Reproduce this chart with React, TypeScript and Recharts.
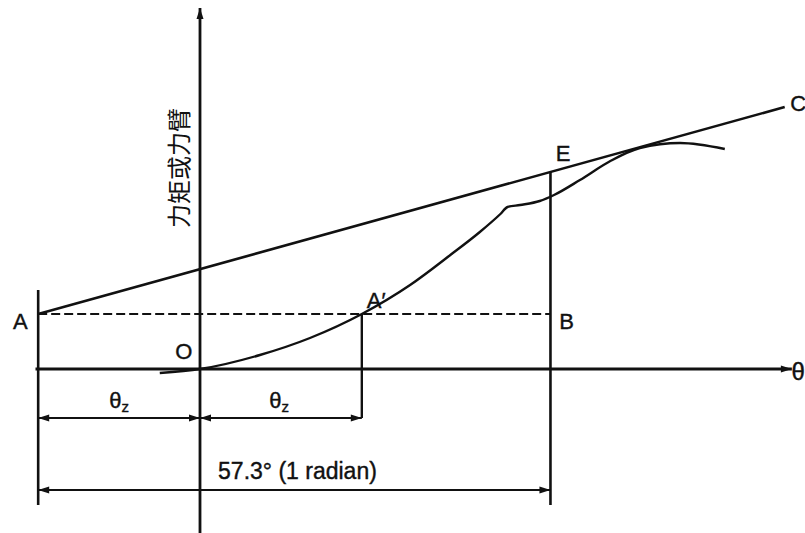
import { ComposedChart, Line, ReferenceDot, ReferenceLine, XAxis, YAxis } from "recharts";

// θ in degrees, moment arm in arbitrary units
const thetaZ = 18.1;
const radianDeg = 57.3;
const armA = 5.5;
const thetaC = 65.4;
const armC = 26.2;

const curveTheta = [-4.5, 0, 6.7, 12.3, 18.1, 23.5, 28.0, 31.3, 33.6, 34.4, 35.8, 38.0, 39.6, 42.5, 45.9, 49.2, 53.7, 58.7];
const curveArm = [-0.4, 0, 1.4, 3.1, 5.5, 8.4, 11.4, 13.7, 15.5, 16.2, 16.4, 16.8, 17.4, 18.9, 20.8, 22.1, 22.6, 22.0];

const xDomain: [number, number] = [-22.37, 67.67];
const yDomain: [number, number] = [-16.4, 36.9];

const dimLevel1 = -4.9;
const dimLevel2 = -12.1;
const dimBottom = -13.6;
const topA = 7.9;

const pointLabels = ["A", "A\u2032", "B", "O", "E", "C", "\u03b8"];
const pointLabelX = [-20.1, 19.7, 41.0, -1.8, 40.6, 66.9, 66.9];
const pointLabelY = [4.8, 6.9, 4.8, 1.8, 21.6, 26.6, -0.2];

const rowData = curveTheta.map((t, i) => ({ t, arm: curveArm[i] }));

// slope of the line A–C, used to place E on it
const slopeAC = (armC - armA) / (thetaC + thetaZ);
const thetaB = radianDeg - thetaZ;
const armE = armA + slopeAC * (thetaB + thetaZ);

const FONT = "'Liberation Sans', Arial, sans-serif";

type SegProps = { x1?: number; y1?: number; x2?: number; y2?: number };

const head = (x: number, y: number, dx: number, dy: number, key: string) => {
  const len = Math.hypot(dx, dy) || 1;
  const ux = dx / len;
  const uy = dy / len;
  const L = 11;
  const W = 3.5;
  const bx = x - ux * L;
  const by = y - uy * L;
  return (
    <polygon
      key={key}
      points={`${x},${y} ${bx - uy * W},${by + ux * W} ${bx + uy * W},${by - ux * W}`}
      fill="#111"
    />
  );
};

const arrowShape =
  (start: boolean, end: boolean, width = 2.4) =>
  (p: SegProps) => {
    const { x1 = 0, y1 = 0, x2 = 0, y2 = 0 } = p;
    return (
      <g>
        <line x1={x1} y1={y1} x2={x2} y2={y2} stroke="#111" strokeWidth={width} />
        {start && head(x1, y1, x1 - x2, y1 - y2, "s")}
        {end && head(x2, y2, x2 - x1, y2 - y1, "e")}
      </g>
    );
  };

const textShape =
  (text: string, size = 22) =>
  (p: { cx?: number; cy?: number }) => (
    <text
      x={p.cx}
      y={p.cy}
      textAnchor="middle"
      dominantBaseline="central"
      fontFamily={FONT}
      fontSize={size}
      fill="#111"
      stroke="#111"
      strokeWidth={0.4}
    >
      {text}
    </text>
  );

const ThetaZ = (p: { cx?: number; cy?: number }) => (
  <text
    x={p.cx}
    y={p.cy}
    textAnchor="middle"
    dominantBaseline="central"
    fontFamily={FONT}
    fill="#111"
    stroke="#111"
    strokeWidth={0.4}
  >
    <tspan fontSize={22}>θ</tspan>
    <tspan fontSize={15} dy={6}>z</tspan>
  </text>
);

const AxisTitle = (p: { cx?: number; cy?: number }) => (
  <text
    x={p.cx}
    y={p.cy}
    textAnchor="middle"
    dominantBaseline="central"
    fontFamily="'Noto Sans CJK SC', sans-serif"
    fontSize={24}
    fill="#111"
    transform={`rotate(-90 ${p.cx} ${p.cy})`}
  >
    力矩或力臂
  </text>
);

export default function App() {
  return (
    <div style={{ position: "absolute", left: 0, top: 0, background: "#fff" }}>
      <ComposedChart width={805} height={533} data={rowData} margin={{ top: 0, right: 0, bottom: 0, left: 0 }}>
        <XAxis type="number" dataKey="t" domain={xDomain} allowDataOverflow hide />
        <YAxis type="number" domain={yDomain} allowDataOverflow hide />

        {/* axes */}
        <ReferenceLine segment={[{ x: 0, y: yDomain[0] }, { x: 0, y: 36.1 }]} shape={arrowShape(false, true, 2.8)} />
        <ReferenceLine segment={[{ x: -18.4, y: 0 }, { x: 66.2, y: 0 }]} shape={arrowShape(false, true, 2.8)} />

        {/* line A–C and dashed A–B */}
        <ReferenceLine segment={[{ x: -thetaZ, y: armA }, { x: thetaC, y: armC }]} stroke="#111" strokeWidth={2.6} />
        <ReferenceLine
          segment={[{ x: -thetaZ, y: armA }, { x: thetaB, y: armA }]}
          stroke="#111"
          strokeWidth={2.2}
          strokeDasharray="9 4"
        />

        {/* verticals at A, A′ and B */}
        <ReferenceLine segment={[{ x: -thetaZ, y: topA }, { x: -thetaZ, y: dimBottom }]} stroke="#111" strokeWidth={2.6} />
        <ReferenceLine segment={[{ x: thetaZ, y: armA }, { x: thetaZ, y: dimLevel1 }]} stroke="#111" strokeWidth={2.4} />
        <ReferenceLine segment={[{ x: thetaB, y: armE }, { x: thetaB, y: dimBottom }]} stroke="#111" strokeWidth={2.6} />

        {/* dimension lines */}
        <ReferenceLine segment={[{ x: -thetaZ, y: dimLevel1 }, { x: 0, y: dimLevel1 }]} shape={arrowShape(true, true, 2)} />
        <ReferenceLine segment={[{ x: 0, y: dimLevel1 }, { x: thetaZ, y: dimLevel1 }]} shape={arrowShape(true, true, 2)} />
        <ReferenceLine segment={[{ x: -thetaZ, y: dimLevel2 }, { x: thetaB, y: dimLevel2 }]} shape={arrowShape(true, true, 2)} />

        <Line
          dataKey="arm"
          type="monotone"
          stroke="#111"
          strokeWidth={2.4}
          strokeLinecap="butt"
          dot={false}
          activeDot={false}
          legendType="none"
          isAnimationActive={false}
        />

        {pointLabels.map((s, i) => (
          <ReferenceDot
            key={s}
            x={pointLabelX[i]}
            y={pointLabelY[i]}
            r={0}
            fill="none"
            stroke="none"
            shape={textShape(s, i === 6 ? 24 : 22)}
          />
        ))}
        <ReferenceDot x={-thetaZ / 2} y={-3.1} r={0} fill="none" stroke="none" shape={ThetaZ} />
        <ReferenceDot x={thetaZ / 2 - 0.2} y={-3.1} r={0} fill="none" stroke="none" shape={ThetaZ} />
        <ReferenceDot x={10.9} y={-10.2} r={0} fill="none" stroke="none" shape={textShape("57.3° (1 radian)", 23)} />
        <ReferenceDot x={-2.5} y={20.1} r={0} fill="none" stroke="none" shape={AxisTitle} />
      </ComposedChart>
    </div>
  );
}
